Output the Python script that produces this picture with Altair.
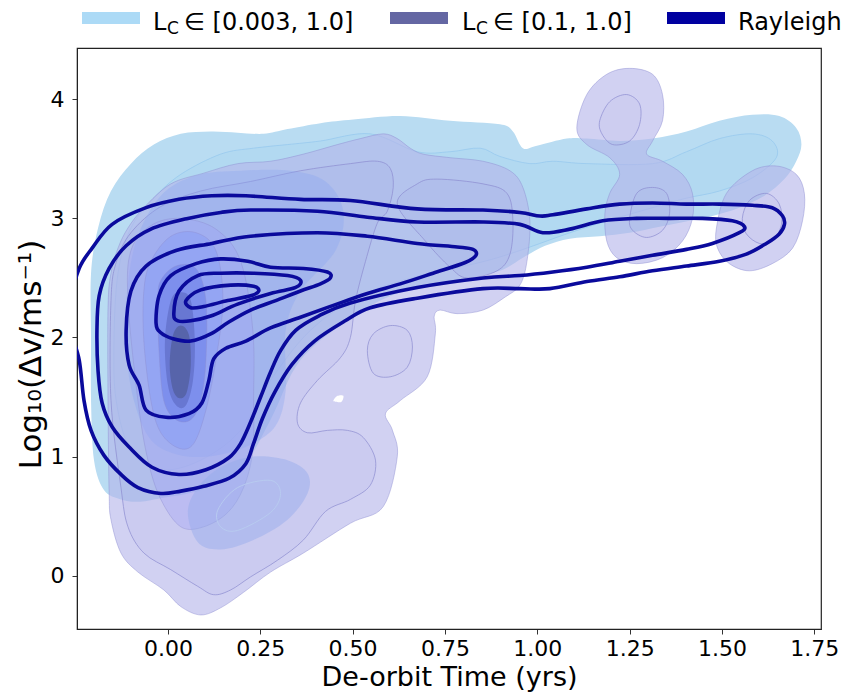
import altair as alt
import pandas as pd

X_DOMAIN = [-0.246, 1.768]
Y_DOMAIN = [-0.448, 4.431]
X_TICKS = [0.0, 0.25, 0.5, 0.75, 1.0, 1.25, 1.5, 1.75]
Y_TICKS = [0, 1, 2, 3, 4]
X_TITLE = "De-orbit Time (yrs)"
Y_TITLE = "Log₁₀(Δv/ms⁻¹)"

# ---- L_C in [0.003, 1.0] (light blue) contour levels ----
A1_X = [-0.200, -0.208, -0.208, -0.208, -0.189, -0.154, -0.100, -0.038, 0.035, 0.116, 0.189, 0.259, 0.324, 0.413, 0.502, 0.629, 0.764, 0.899, 0.934, 0.961, 0.999, 1.080, 1.134, 1.223, 1.312, 1.404, 1.493, 1.582, 1.655, 1.701, 1.715, 1.701, 1.669, 1.615, 1.547, 1.474, 1.412, 1.331, 1.250, 1.169, 1.088, 1.021, 0.961, 0.899, 0.791, 0.629, 0.494, 0.359, 0.278, 0.197, 0.089, -0.019, -0.081, -0.127, -0.173]
A1_Y = [0.97, 1.47, 1.97, 2.54, 2.92, 3.23, 3.46, 3.62, 3.71, 3.73, 3.72, 3.71, 3.75, 3.80, 3.83, 3.86, 3.82, 3.79, 3.73, 3.59, 3.61, 3.67, 3.67, 3.65, 3.67, 3.73, 3.82, 3.87, 3.86, 3.76, 3.62, 3.48, 3.33, 3.19, 3.09, 3.02, 2.98, 2.93, 2.88, 2.85, 2.83, 2.77, 2.67, 2.56, 2.48, 2.38, 2.16, 1.81, 1.31, 0.89, 0.72, 0.65, 0.62, 0.64, 0.72]
A2_X = [-0.146, -0.135, -0.100, -0.038, 0.035, 0.143, 0.232, 0.324, 0.413, 0.548, 0.675, 0.764, 0.845, 0.899, 0.980, 1.042, 1.134, 1.312, 1.404, 1.493, 1.582, 1.636, 1.647, 1.582, 1.493, 1.404, 1.312, 1.169, 1.061, 0.953, 0.845, 0.683, 0.521, 0.386, 0.278, 0.197, 0.089, -0.019, -0.100, -0.140]
A2_Y = [1.97, 2.54, 2.92, 3.17, 3.37, 3.54, 3.59, 3.62, 3.65, 3.71, 3.56, 3.56, 3.59, 3.52, 3.46, 3.48, 3.46, 3.46, 3.56, 3.67, 3.71, 3.65, 3.51, 3.34, 3.23, 3.17, 3.09, 2.96, 2.85, 2.73, 2.63, 2.52, 2.35, 2.06, 1.64, 1.22, 0.97, 0.89, 1.05, 1.47]
A3_X = [-0.113, -0.086, -0.019, 0.076, 0.197, 0.332, 0.427, 0.475, 0.454, 0.359, 0.319, 0.319, 0.292, 0.224, 0.130, 0.035, -0.046, -0.092, -0.113]
A3_Y = [2.31, 2.81, 3.19, 3.36, 3.40, 3.40, 3.31, 3.06, 2.73, 2.39, 2.06, 1.56, 1.26, 1.10, 1.01, 1.01, 1.14, 1.47, 1.89]
A_LOW_X = [0.054, 0.081, 0.143, 0.232, 0.324, 0.378, 0.378, 0.324, 0.232, 0.143, 0.081]
A_LOW_Y = [0.53, 0.74, 0.91, 1.00, 0.97, 0.86, 0.69, 0.47, 0.30, 0.22, 0.28]
A_LOW_IN_X = [0.135, 0.189, 0.278, 0.305, 0.278, 0.189, 0.143]
A_LOW_IN_Y = [0.55, 0.74, 0.80, 0.69, 0.53, 0.38, 0.41]

# ---- L_C in [0.1, 1.0] (lavender) contour levels ----
B1_X = [-0.162, -0.154, -0.135, -0.108, -0.065, 0.008, 0.097, 0.189, 0.278, 0.367, 0.459, 0.521, 0.583, 0.621, 0.656, 0.691, 0.764, 0.853, 0.926, 0.961, 0.980, 0.972, 0.953, 0.913, 0.853, 0.783, 0.737, 0.721, 0.724, 0.702, 0.629, 0.589, 0.608, 0.621, 0.583, 0.494, 0.367, 0.278, 0.205, 0.143, 0.089, 0.035, -0.011, -0.081, -0.127, -0.154, -0.159, -0.162]
B1_Y = [2.25, 2.54, 2.75, 2.92, 3.09, 3.29, 3.38, 3.46, 3.48, 3.54, 3.62, 3.67, 3.71, 3.67, 3.59, 3.54, 3.51, 3.48, 3.40, 3.26, 2.98, 2.64, 2.44, 2.34, 2.23, 2.20, 2.23, 2.18, 2.03, 1.67, 1.47, 1.36, 1.22, 1.00, 0.58, 0.44, 0.19, 0.03, -0.14, -0.27, -0.33, -0.26, -0.12, 0.03, 0.19, 0.47, 0.70, 1.47]
B1_EIGHT_X = [1.107, 1.134, 1.188, 1.250, 1.312, 1.339, 1.339, 1.312, 1.296, 1.339, 1.393, 1.420, 1.420, 1.393, 1.339, 1.269, 1.215, 1.188, 1.183, 1.196, 1.223, 1.196, 1.134]
B1_EIGHT_Y = [3.76, 4.04, 4.21, 4.26, 4.21, 4.04, 3.82, 3.65, 3.54, 3.48, 3.37, 3.21, 3.00, 2.81, 2.67, 2.62, 2.67, 2.81, 3.04, 3.21, 3.37, 3.51, 3.62]
B1_RIGHT_X = [1.485, 1.512, 1.582, 1.647, 1.701, 1.723, 1.718, 1.691, 1.636, 1.574, 1.520, 1.488]
B1_RIGHT_Y = [2.92, 3.21, 3.40, 3.44, 3.37, 3.21, 2.98, 2.75, 2.62, 2.56, 2.62, 2.75]
B2_X = [-0.154, -0.154, -0.140, -0.100, -0.019, 0.089, 0.224, 0.359, 0.494, 0.567, 0.602, 0.610, 0.594, 0.567, 0.535, 0.508, 0.494, 0.467, 0.405, 0.359, 0.351, 0.378, 0.432, 0.486, 0.529, 0.562, 0.548, 0.494, 0.427, 0.367, 0.297, 0.224, 0.170, 0.124, 0.081, 0.008, -0.065, -0.108, -0.127]
B2_Y = [1.47, 2.31, 2.63, 2.88, 3.10, 3.23, 3.31, 3.40, 3.46, 3.48, 3.42, 3.26, 3.06, 2.96, 2.64, 2.31, 2.00, 1.83, 1.64, 1.45, 1.28, 1.20, 1.22, 1.22, 1.16, 0.97, 0.76, 0.64, 0.54, 0.30, 0.13, -0.01, -0.12, -0.16, -0.09, 0.05, 0.19, 0.41, 0.74]
B2_LOBE_X = [0.621, 0.675, 0.729, 0.853, 0.918, 0.934, 0.926, 0.891, 0.810, 0.764, 0.697]
B2_LOBE_Y = [3.12, 3.29, 3.33, 3.29, 3.21, 2.98, 2.70, 2.56, 2.50, 2.59, 2.81]
B2_OVAL_X = [0.540, 0.556, 0.602, 0.648, 0.662, 0.648, 0.602, 0.556]
B2_OVAL_Y = [1.89, 2.03, 2.10, 2.06, 1.92, 1.75, 1.67, 1.70]
B2_UP_X = [1.169, 1.196, 1.242, 1.277, 1.277, 1.250, 1.204, 1.175]
B2_UP_Y = [3.82, 3.98, 4.04, 3.96, 3.79, 3.65, 3.62, 3.71]
B2_MID_X = [1.250, 1.269, 1.312, 1.350, 1.358, 1.339, 1.296, 1.258]
B2_MID_Y = [3.00, 3.21, 3.26, 3.21, 3.04, 2.90, 2.84, 2.90]
B2_RIGHT_X = [1.555, 1.574, 1.620, 1.655, 1.661, 1.636, 1.601, 1.566]
B2_RIGHT_Y = [3.00, 3.15, 3.21, 3.12, 2.95, 2.81, 2.79, 2.87]
B3_X = [-0.108, -0.100, -0.046, 0.035, 0.130, 0.197, 0.230, 0.232, 0.230, 0.205, 0.162, 0.097, 0.035, -0.019, -0.054, -0.081]
B3_Y = [2.31, 2.73, 2.94, 3.00, 2.91, 2.64, 2.06, 1.47, 1.05, 0.74, 0.53, 0.41, 0.41, 0.64, 0.97, 1.47]
B4_X = [-0.046, 0.008, 0.076, 0.130, 0.149, 0.130, 0.103, 0.070, 0.030, -0.019, -0.046, -0.065, -0.065]
B4_Y = [2.64, 2.85, 2.88, 2.73, 2.31, 1.81, 1.39, 1.11, 1.07, 1.20, 1.47, 1.97, 2.39]
B5_X = [-0.019, 0.022, 0.076, 0.103, 0.103, 0.089, 0.062, 0.022, -0.011, -0.024, -0.027]
B5_Y = [2.48, 2.60, 2.58, 2.31, 1.81, 1.47, 1.31, 1.31, 1.47, 1.89, 2.31]
B6_X = [0.008, 0.035, 0.062, 0.073, 0.068, 0.049, 0.022, 0.000, -0.008]
B6_Y = [2.31, 2.38, 2.31, 1.97, 1.64, 1.43, 1.43, 1.60, 1.97]
B7_X = [0.014, 0.035, 0.057, 0.062, 0.051, 0.032, 0.014, 0.005]
B7_Y = [2.02, 2.10, 2.02, 1.77, 1.54, 1.49, 1.56, 1.77]
HOLE_X = [0.448, 0.459, 0.475, 0.470, 0.454]
HOLE_Y = [1.47, 1.51, 1.51, 1.46, 1.46]

# ---- Rayleigh contour lines ----
R1_X = [-0.262, -0.240, -0.205, -0.151, -0.059, 0.030, 0.119, 0.211, 0.359, 0.494, 0.675, 0.853, 0.953, 1.007, 1.042, 1.134, 1.223, 1.312, 1.404, 1.493, 1.582, 1.636, 1.664, 1.669, 1.655, 1.620, 1.566, 1.493, 1.404, 1.312, 1.223, 1.134, 1.034, 0.953, 0.853, 0.675, 0.548, 0.480, 0.397, 0.335, 0.289, 0.256, 0.232, 0.211, 0.167, 0.097, 0.035, -0.019, -0.081, -0.127, -0.173, -0.208, -0.227, -0.240, -0.262]
R1_Y = [2.31, 2.58, 2.75, 2.95, 3.09, 3.16, 3.19, 3.19, 3.16, 3.15, 3.08, 3.07, 3.05, 3.02, 3.03, 3.08, 3.12, 3.13, 3.12, 3.12, 3.11, 3.09, 3.02, 2.95, 2.87, 2.79, 2.70, 2.64, 2.60, 2.56, 2.51, 2.47, 2.41, 2.41, 2.41, 2.33, 2.25, 2.14, 1.97, 1.77, 1.54, 1.32, 1.11, 0.94, 0.82, 0.75, 0.71, 0.69, 0.74, 0.85, 1.01, 1.22, 1.47, 1.81, 2.06]
R2_X = [-0.192, -0.186, -0.159, -0.113, -0.046, 0.054, 0.143, 0.224, 0.405, 0.540, 0.675, 0.853, 0.953, 1.015, 1.088, 1.177, 1.269, 1.358, 1.447, 1.528, 1.561, 1.547, 1.474, 1.404, 1.312, 1.223, 1.134, 1.042, 0.953, 0.853, 0.675, 0.494, 0.408, 0.346, 0.305, 0.278, 0.251, 0.224, 0.197, 0.165, 0.103, 0.030, -0.043, -0.105, -0.151, -0.178, -0.189]
R2_Y = [2.06, 2.35, 2.58, 2.77, 2.91, 3.00, 3.05, 3.07, 3.06, 3.01, 2.97, 2.97, 2.95, 2.88, 2.91, 2.98, 3.00, 3.00, 3.00, 2.98, 2.93, 2.88, 2.79, 2.74, 2.69, 2.64, 2.59, 2.55, 2.52, 2.50, 2.42, 2.29, 2.18, 2.06, 1.89, 1.71, 1.50, 1.29, 1.11, 0.99, 0.89, 0.85, 0.91, 1.08, 1.25, 1.45, 1.72]
R3_X = [-0.105, -0.113, -0.100, -0.059, 0.022, 0.119, 0.224, 0.405, 0.540, 0.675, 0.783, 0.826, 0.834, 0.805, 0.718, 0.629, 0.540, 0.448, 0.359, 0.278, 0.211, 0.157, 0.124, 0.111, 0.092, 0.057, -0.005, -0.059, -0.078]
R3_Y = [1.77, 2.06, 2.39, 2.60, 2.73, 2.79, 2.85, 2.88, 2.85, 2.79, 2.76, 2.74, 2.69, 2.63, 2.54, 2.45, 2.37, 2.27, 2.17, 2.08, 1.97, 1.91, 1.82, 1.64, 1.45, 1.36, 1.33, 1.39, 1.60]
R4_X = [-0.032, -0.024, 0.008, 0.076, 0.143, 0.216, 0.278, 0.367, 0.432, 0.440, 0.413, 0.359, 0.292, 0.224, 0.165, 0.116, 0.062, 0.014, -0.019]
R4_Y = [2.12, 2.35, 2.52, 2.62, 2.66, 2.64, 2.59, 2.58, 2.55, 2.50, 2.45, 2.39, 2.31, 2.23, 2.13, 2.03, 1.97, 1.99, 2.04]
R5_X = [0.016, 0.030, 0.081, 0.143, 0.232, 0.324, 0.359, 0.346, 0.278, 0.189, 0.116, 0.062, 0.027]
R5_Y = [2.20, 2.39, 2.52, 2.54, 2.54, 2.52, 2.48, 2.42, 2.37, 2.28, 2.18, 2.14, 2.14]
R6_X = [0.049, 0.089, 0.170, 0.232, 0.246, 0.224, 0.162, 0.097, 0.062]
R6_Y = [2.31, 2.40, 2.44, 2.43, 2.39, 2.35, 2.31, 2.26, 2.25]

# ---- legend ----
LEGEND_COLORS = ["#acdaf6", "#6467a3", "#0000a0"]
LEGEND_MAIN = ["L", "L", "Rayleigh"]
LEGEND_SUB = ["C", "C", ""]
LEGEND_REST = ["∈ [0.003, 1.0]", "∈ [0.1, 1.0]", ""]

FONT = "DejaVu Sans"
RAY = "#0a0a9c"

x_axis = alt.Axis(values=X_TICKS, format=".2f", title=X_TITLE, grid=False,
                  labelFontSize=22, titleFontSize=27, labelFont=FONT, titleFont=FONT,
                  titleFontWeight="normal", labelColor="black", titleColor="black",
                  tickColor="#333", tickSize=5, domainColor="#222", labelPadding=4,
                  titlePadding=5, labelFlush=False, labelOverlap=False)
y_axis = alt.Axis(values=Y_TICKS, format="d", title=Y_TITLE, grid=False,
                  labelFontSize=22, titleFontSize=31, labelFont=FONT, titleFont=FONT,
                  titleFontWeight="normal", labelColor="black", titleColor="black",
                  tickColor="#333", tickSize=5, domainColor="#222", labelPadding=8,
                  titlePadding=3, titleY=306, labelFlush=False, labelOverlap=False)


def shape(xs, ys, **mark):
    df = pd.DataFrame({"x": xs, "y": ys, "i": list(range(len(xs)))})
    opts = dict(clip=True, interpolate="cardinal-closed")
    opts.update(mark)
    return alt.Chart(df).mark_line(**opts).encode(
        x=alt.X("x:Q", scale=alt.Scale(domain=X_DOMAIN, nice=False, zero=False), axis=x_axis),
        y=alt.Y("y:Q", scale=alt.Scale(domain=Y_DOMAIN, nice=False, zero=False), axis=y_axis),
        order=alt.Order("i:Q"),
    )


def filled(xs, ys, fill, op, stroke=None, sw=0.0, sop=1.0):
    return shape(xs, ys, fill=fill, fillOpacity=op, stroke=stroke or fill,
                 strokeWidth=sw, strokeOpacity=sop if sw > 0 else 0)


def line(xs, ys, stroke, sw, sop=1.0):
    return shape(xs, ys, stroke=stroke, strokeWidth=sw, strokeOpacity=sop)


LAV = "#b4b4ea"
LAV_EDGE = "#8c8cd0"
layers = [
    filled(A1_X, A1_Y, "#b9dcf2", 1.0),
    filled(A2_X, A2_Y, "#9fcff0", 0.25, "#94c8ee", 1.0, 0.7),
    filled(B1_X, B1_Y, LAV, 0.62, LAV_EDGE, 1.0, 0.45),
    filled(B1_EIGHT_X, B1_EIGHT_Y, LAV, 0.62, LAV_EDGE, 1.0, 0.45),
    filled(B1_RIGHT_X, B1_RIGHT_Y, LAV, 0.62, LAV_EDGE, 1.0, 0.45),
    filled(B2_X, B2_Y, "#8c8cd8", 0.08, LAV_EDGE, 1.0, 0.7),
    filled(B2_LOBE_X, B2_LOBE_Y, "#8c8cd8", 0.08, LAV_EDGE, 1.0, 0.7),
    filled(B2_OVAL_X, B2_OVAL_Y, "#8c8cd8", 0.05, LAV_EDGE, 1.0, 0.7),
    filled(B2_UP_X, B2_UP_Y, "#8c8cd8", 0.05, LAV_EDGE, 1.0, 0.7),
    filled(B2_MID_X, B2_MID_Y, "#8c8cd8", 0.05, LAV_EDGE, 1.0, 0.7),
    filled(B2_RIGHT_X, B2_RIGHT_Y, "#8c8cd8", 0.05, LAV_EDGE, 1.0, 0.7),
    filled(A3_X, A3_Y, "#8aa6f2", 0.35),
    filled(B3_X, B3_Y, "#a0a0f6", 0.35, LAV_EDGE, 1.0, 0.4),
    filled(A_LOW_X, A_LOW_Y, "#95aaea", 0.45),
    line(A_LOW_IN_X, A_LOW_IN_Y, "#b8ccf0", 1.0, 0.9),
    filled(B4_X, B4_Y, "#8a9ef6", 0.55, LAV_EDGE, 1.0, 0.4),
    filled(B5_X, B5_Y, "#6a7ee8", 0.55, LAV_EDGE, 1.0, 0.4),
    filled(B6_X, B6_Y, "#5a68c0", 0.6),
    filled(B7_X, B7_Y, "#505c98", 0.7),
    filled(HOLE_X, HOLE_Y, "white", 1.0),
]
for rx, ry in [(R1_X, R1_Y), (R2_X, R2_Y), (R3_X, R3_Y), (R4_X, R4_Y), (R5_X, R5_Y), (R6_X, R6_Y)]:
    layers.append(line(rx, ry, RAY, 3.6))

# legend, drawn above the plot area
one = pd.DataFrame({"k": [0]})
SW_X = [5, 313, 590]
MAIN_X = [76, 385, 661]
SUB_X = [90, 399, 0]
REST_X = [107, 416, 0]
for k in range(3):
    layers.append(alt.Chart(one).mark_rect(color=LEGEND_COLORS[k]).encode(
        x=alt.value(SW_X[k]), x2=alt.value(SW_X[k] + 58), y=alt.value(-36), y2=alt.value(-24)))
    layers.append(alt.Chart(one).mark_text(text=LEGEND_MAIN[k], align="left", baseline="alphabetic",
                                           fontSize=24, font=FONT, color="black").encode(
        x=alt.value(MAIN_X[k]), y=alt.value(-18)))
    if LEGEND_SUB[k]:
        layers.append(alt.Chart(one).mark_text(text=LEGEND_SUB[k], align="left", baseline="alphabetic",
                                               fontSize=17, font=FONT, color="black").encode(
            x=alt.value(SUB_X[k]), y=alt.value(-14)))
        layers.append(alt.Chart(one).mark_text(text=LEGEND_REST[k], align="left", baseline="alphabetic",
                                               fontSize=24, font=FONT, color="black").encode(
            x=alt.value(REST_X[k]), y=alt.value(-18)))

chart = alt.layer(*layers).properties(
    width=744, height=581,
    padding={"left": 69, "top": 40, "right": 20, "bottom": 67},
    autosize=alt.AutoSizeParams(type="none"),
).configure_view(stroke="#222", strokeWidth=1.2)

chart.save("out.html", embed_options={"renderer": "svg", "actions": False})
